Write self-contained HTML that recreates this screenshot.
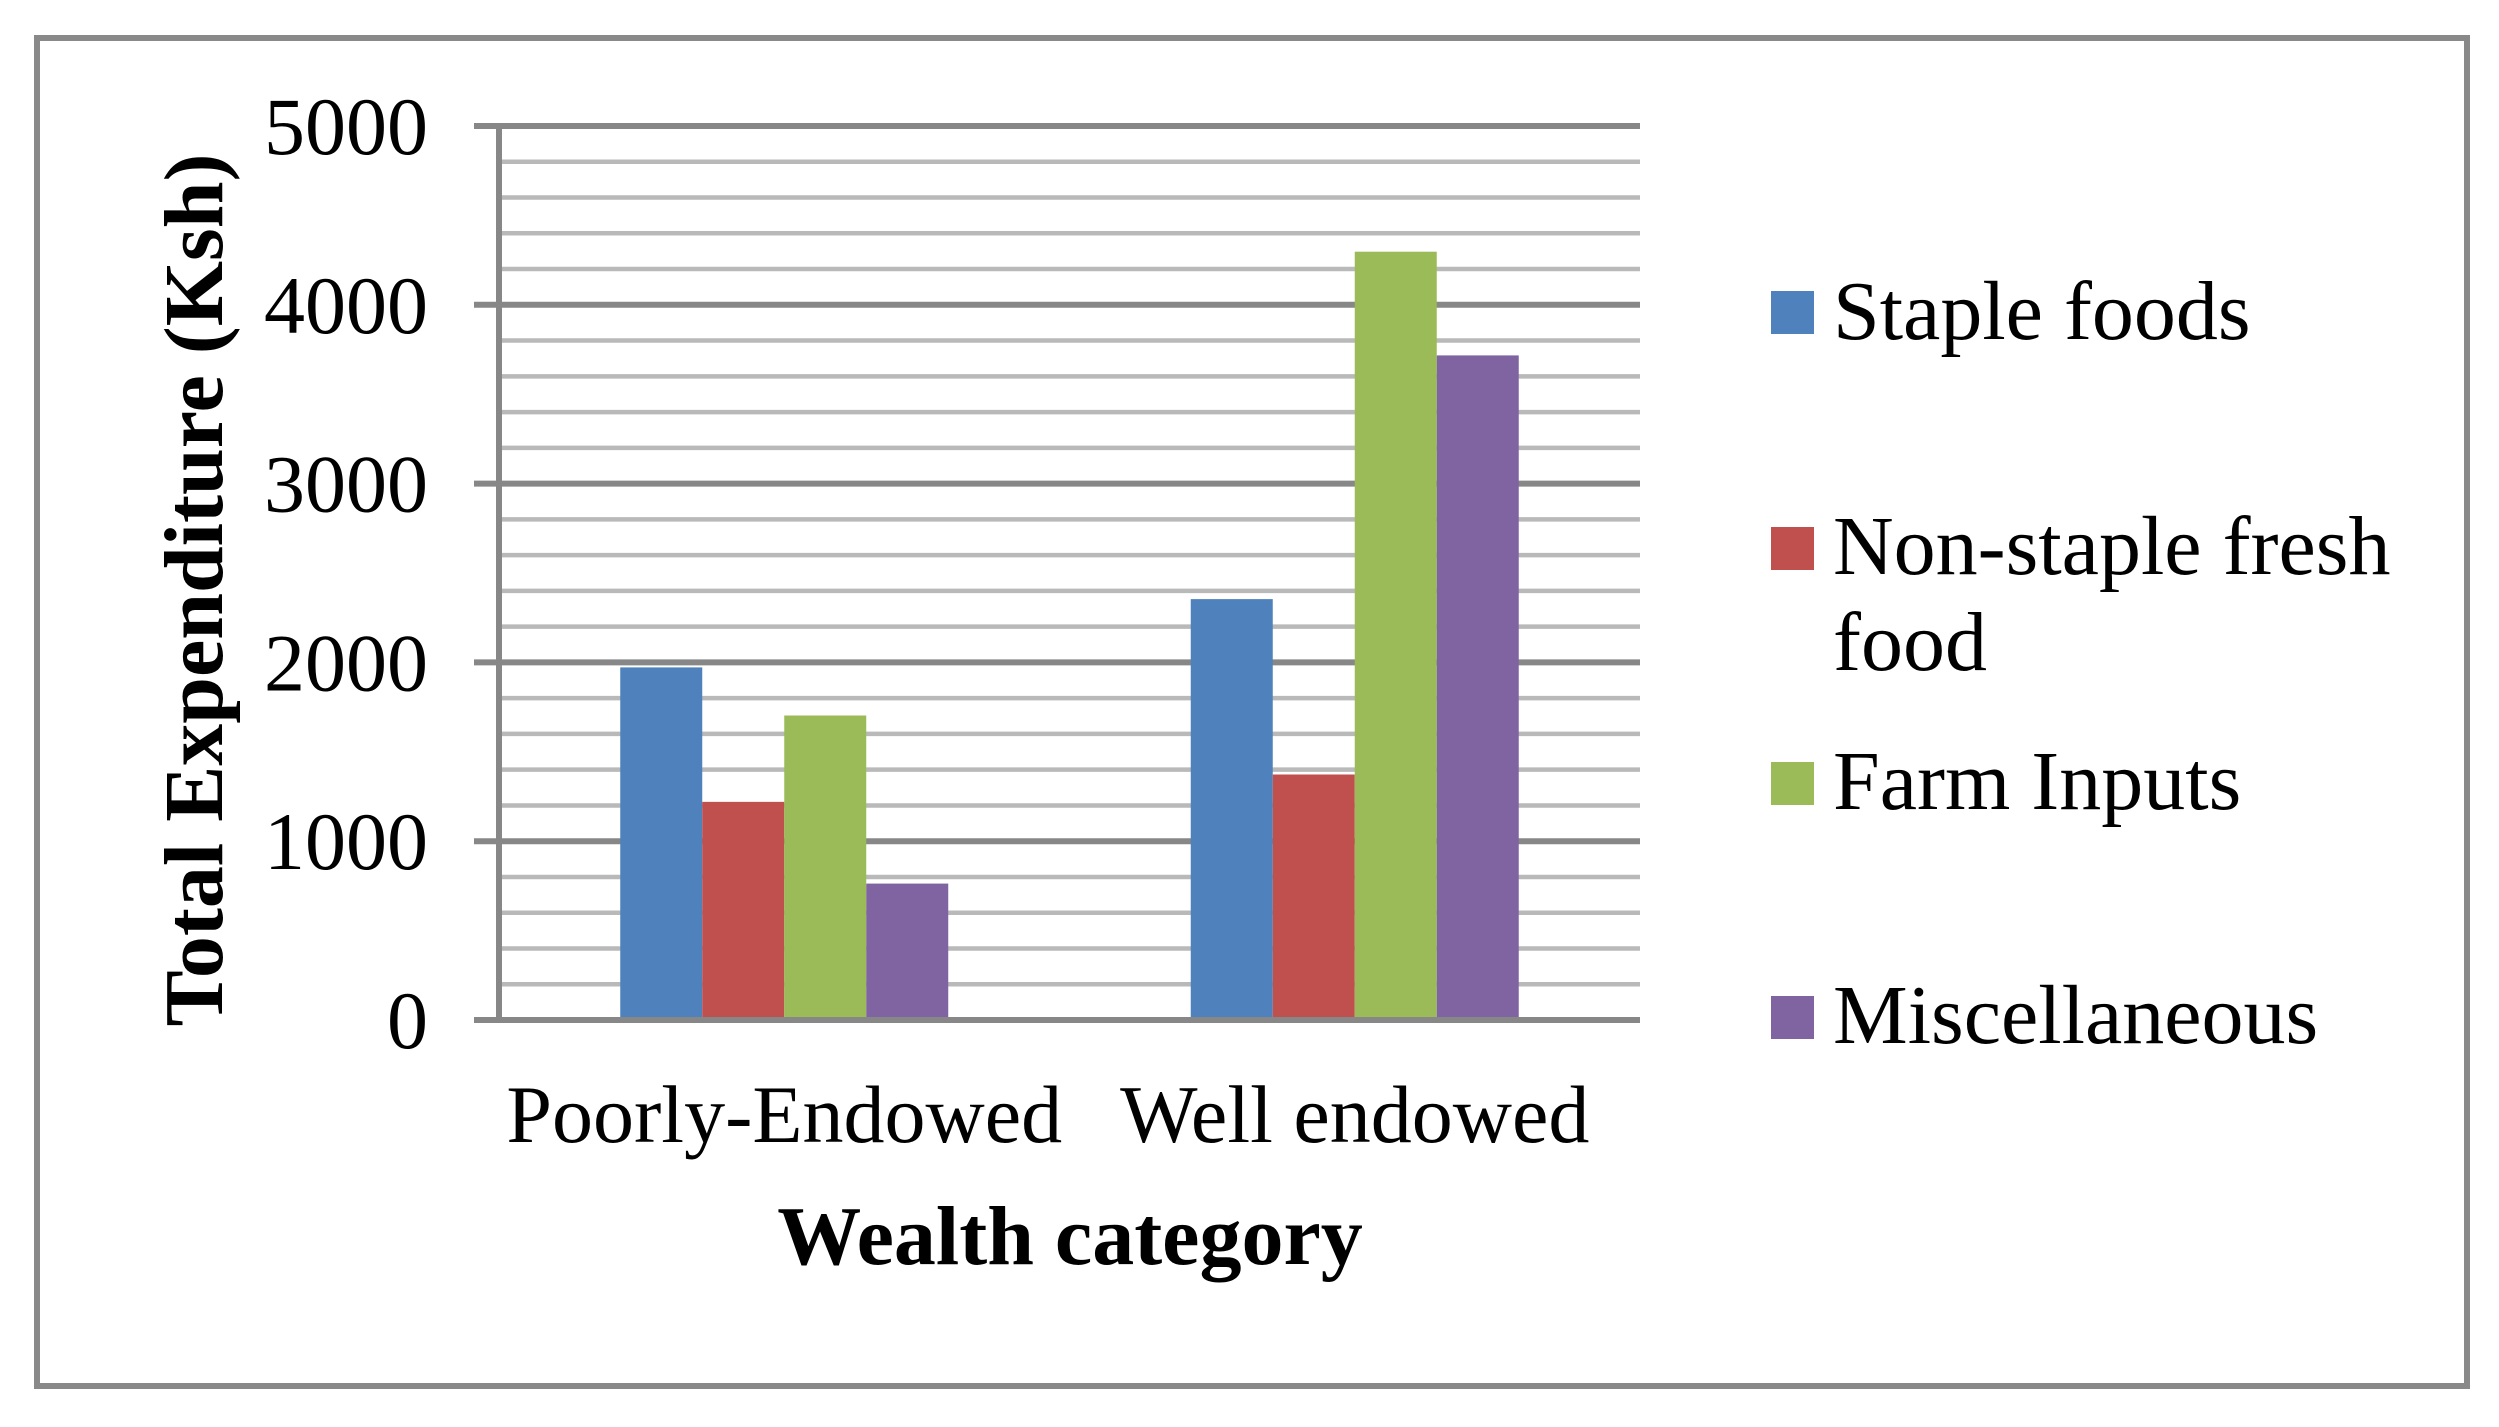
<!DOCTYPE html>
<html><head><meta charset="utf-8"><style>
html,body{margin:0;padding:0;background:#fff;}
svg{display:block;font-family:"Liberation Serif",serif;}
</style></head><body>
<svg id="chart" width="2499" height="1427" viewBox="0 0 2499 1427">
<rect x="37" y="38" width="2430" height="1348" fill="#fff" stroke="#898989" stroke-width="6"/>
<g id="grid"></g>
<g id="bars"></g>
<g id="yticks"></g>
<g id="xcats"></g>
<text x="222" y="590" transform="rotate(-90 222 590)" text-anchor="middle" font-size="84" font-weight="bold">Total Expenditure (Ksh)</text>
<text x="1070" y="1264" text-anchor="middle" font-size="84" font-weight="bold">Wealth category</text>
<g>
<rect x="1771" y="291" width="43" height="43" fill="#4f81bd"/>
<text x="1833" y="339" font-size="84">Staple foods</text>
<rect x="1771" y="527" width="43" height="43" fill="#c0504d"/>
<text x="1833" y="574" font-size="84">Non-staple fresh<tspan x="1833" y="670">food</tspan></text>
<rect x="1771" y="762" width="43" height="43" fill="#9bbb59"/>
<text x="1833" y="809" font-size="84">Farm Inputs</text>
<rect x="1771" y="996" width="43" height="43" fill="#8064a2"/>
<text x="1833" y="1043" font-size="84">Miscellaneous</text>
</g>
</svg>
<script>
const categories = ["Poorly-Endowed", "Well endowed"];
const staple = [1972, 2354];
const nonStaple = [1220, 1373];
const farmInputs = [1703, 4297];
const misc = [763, 3717];
const yTicks = [0, 1000, 2000, 3000, 4000, 5000];

const NS = "http://www.w3.org/2000/svg";
const plotL = 499, plotR = 1640, y0 = 1020, y5 = 126, yMax = 5000;
const y = v => y0 - (v / yMax) * (y0 - y5);
const groupW = (plotR - plotL) / categories.length;
const barW = 82;
const series = [staple, nonStaple, farmInputs, misc];
const colors = ["#4f81bd", "#c0504d", "#9bbb59", "#8064a2"];
const sNames = ["staple", "nonstaple", "farm-inputs", "misc"];

const grid = document.getElementById("grid");
for (let v = 0; v <= yMax; v += 200) {
  const major = v % 1000 === 0;
  const l = document.createElementNS(NS, "line");
  l.setAttribute("x1", major ? 474 : plotL);
  l.setAttribute("x2", plotR);
  l.setAttribute("y1", y(v)); l.setAttribute("y2", y(v));
  l.setAttribute("stroke", major ? "#878787" : "#b9b9b9");
  l.setAttribute("stroke-width", major ? 6 : 4.5);
  
  
  grid.appendChild(l);
}
const ax = document.createElementNS(NS, "line");
ax.setAttribute("x1", plotL); ax.setAttribute("x2", plotL);
ax.setAttribute("y1", y5); ax.setAttribute("y2", y0);
ax.setAttribute("stroke", "#878787"); ax.setAttribute("stroke-width", 6);


grid.appendChild(ax);

const bars = document.getElementById("bars");
categories.forEach((c, i) => {
  const start = plotL + groupW * i + (groupW - barW * 4) / 2;
  series.forEach((s, k) => {
    const r = document.createElementNS(NS, "rect");
    r.setAttribute("x", start + k * barW);
    r.setAttribute("y", y(s[i]));
    r.setAttribute("width", barW);
    r.setAttribute("height", y0 - 3 - y(s[i]));
    r.setAttribute("fill", colors[k]);
    
    
    bars.appendChild(r);
  });
  const t = document.createElementNS(NS, "text");
  t.setAttribute("x", plotL + groupW * (i + 0.5));
  t.setAttribute("y", 1142);
  t.setAttribute("text-anchor", "middle");
  t.setAttribute("font-size", "82");
  t.textContent = c;
  
  
  document.getElementById("xcats").appendChild(t);
});

const yt = document.getElementById("yticks");
yTicks.forEach(v => {
  const t = document.createElementNS(NS, "text");
  t.setAttribute("x", 428);
  t.setAttribute("y", y(v) + 28);
  t.setAttribute("text-anchor", "end");
  t.setAttribute("font-size", "82");
  t.textContent = v;
  
  
  yt.appendChild(t);
});
</script>
</body></html>
